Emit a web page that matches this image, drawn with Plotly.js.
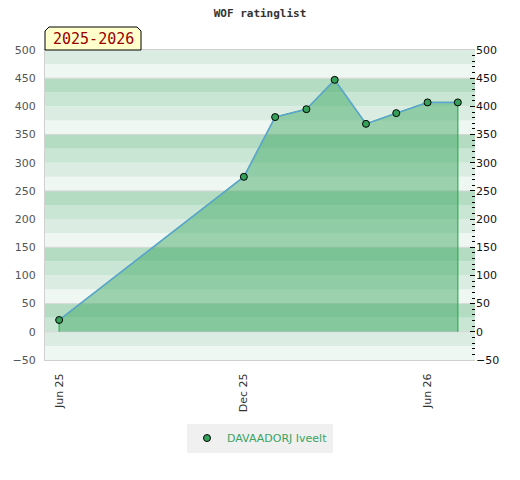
<!DOCTYPE html>
<html>
<head>
<meta charset="utf-8">
<script src="https://cdn.plot.ly/plotly-3.0.1.min.js"></script>
<style>html,body{margin:0;padding:0;background:#fff;}#chart{width:520px;height:480px;}</style>
</head>
<body>
<div id="chart"></div>
<script>
// Data
var dates = ['2025-06-01','2025-12-01','2026-01-01','2026-02-01','2026-03-01','2026-04-01','2026-05-01','2026-06-01','2026-07-01'];
var ratings = [21, 275, 381, 395, 447, 369, 388, 407, 407];
var playerName = 'DAVAADORJ Iveelt';
var seasonLabel = '2025-2026';
var tickDates = ['2025-06-01','2025-12-01','2026-06-01'];
var tickLabels = ['Jun 25','Dec 25','Jun 26'];

var yMin = -50, yMax = 500;

// Filled area polygon closed down to zero
var polyX = [dates[0]].concat(dates, [dates[dates.length-1]]);
var polyY = [0].concat(ratings, [0]);

var traces = [
  {x: polyX, y: polyY, type: 'scatter', mode: 'lines', fill: 'toself',
   fillcolor: 'rgba(62,168,98,0.48)', line: {color: '#30b055', width: 1.2},
   hoverinfo: 'skip', showlegend: false, yaxis: 'y'},
  {x: dates, y: ratings, type: 'scatter', mode: 'lines',
   line: {color: '#5fa4d8', width: 1.5}, showlegend: false, yaxis: 'y2'},
  {x: dates, y: ratings, type: 'scatter', mode: 'markers', name: playerName,
   marker: {color: '#35a05a', size: 7, line: {color: '#000', width: 1}},
   showlegend: true, yaxis: 'y2'}
];

// Background bands (decoration)
var bandColors = {75: '#dbede2', 50: '#eff7f2', 25: '#b3dcc3', 0: '#c8e6d3'};
var shapes = [];
for (var L = yMin; L < yMax; L += 25) {
  var k = ((L % 100) + 100) % 100;
  shapes.push({type: 'rect', xref: 'paper', yref: 'y', x0: 0, x1: 1, y0: L, y1: L + 25,
    fillcolor: bandColors[k], line: {width: 0}, layer: 'below'});
}
// Grid lines at 50, 150, ... 450 and 0
var gridVals = [0];
for (var g = 50; g < yMax; g += 100) gridVals.push(g);
gridVals.forEach(function (v) {
  shapes.push({type: 'line', xref: 'paper', yref: 'y', x0: 0, x1: 1, y0: v, y1: v,
    line: {color: '#d6d6d6', width: 1}, layer: 'below'});
});
// Season label box with chamfered top corners (paper coords)
var bx0 = 0, bx1 = 96/430, by0 = 1, by1 = 1 + 23/310, cx = 4/430, cy = 4/310;
shapes.push({type: 'path', xref: 'paper', yref: 'paper',
  path: 'M ' + bx0 + ',' + by0 + ' L ' + bx0 + ',' + (by1 - cy) + ' L ' + (bx0 + cx) + ',' + by1 +
        ' L ' + (bx1 - cx) + ',' + by1 + ' L ' + bx1 + ',' + (by1 - cy) + ' L ' + bx1 + ',' + by0 + ' Z',
  fillcolor: '#ffffcc', line: {color: '#000', width: 1}, layer: 'above'});

var layout = {
  width: 520, height: 480,
  margin: {l: 45, r: 45, t: 50, b: 120, pad: 0},
  paper_bgcolor: '#fff', plot_bgcolor: '#fff',
  title: {text: '<b>WOF ratinglist</b>', x: 0.5, xanchor: 'center', y: 0.973, yanchor: 'middle',
    font: {family: 'DejaVu Sans Mono', size: 11, color: '#333'}},
  xaxis: {type: 'date', range: ['2025-05-18', '2026-07-18'],
    tickvals: tickDates, ticktext: tickLabels, tickangle: -90,
    tickfont: {family: 'DejaVu Sans', size: 11, color: '#333'},
    showgrid: false, zeroline: false, showline: true, linecolor: '#d0d0d0', linewidth: 1, mirror: true,
    ticks: 'outside', ticklen: 8, tickcolor: 'rgba(0,0,0,0)'},
  yaxis: {range: [yMin, yMax], dtick: 50, tick0: 0,
    tickfont: {family: 'DejaVu Sans', size: 11, color: '#555'},
    showgrid: false, zeroline: false, showline: true, linecolor: '#d0d0d0', linewidth: 1,
    ticks: 'outside', ticklen: 6, tickcolor: 'rgba(0,0,0,0)', fixedrange: true},
  yaxis2: {range: [yMin, yMax], dtick: 50, tick0: 0, overlaying: 'y', side: 'right',
    tickfont: {family: 'DejaVu Sans', size: 11, color: '#111'},
    showgrid: false, zeroline: false, showline: false,
    ticks: 'inside', ticklen: 5, tickcolor: '#000', tickwidth: 1,
    minor: {dtick: 10, tick0: 0, ticks: 'inside', ticklen: 3, tickcolor: '#000', tickwidth: 1, showgrid: false}},
  showlegend: true,
  legend: {orientation: 'h', x: 0.5, xanchor: 'center', y: -0.205, yanchor: 'top',
    bgcolor: '#f0f0f0', font: {family: 'DejaVu Sans', size: 11, color: '#3aa35f'}},
  shapes: shapes,
  annotations: [{xref: 'paper', yref: 'paper', x: 48/430, y: 1 + 11/310, xanchor: 'center', yanchor: 'middle',
    text: seasonLabel, showarrow: false,
    font: {family: 'DejaVu Sans Mono', size: 15, color: '#990000'}}]
};

Plotly.newPlot('chart', traces, layout, {displayModeBar: false, staticPlot: true});
</script>
</body>
</html>
